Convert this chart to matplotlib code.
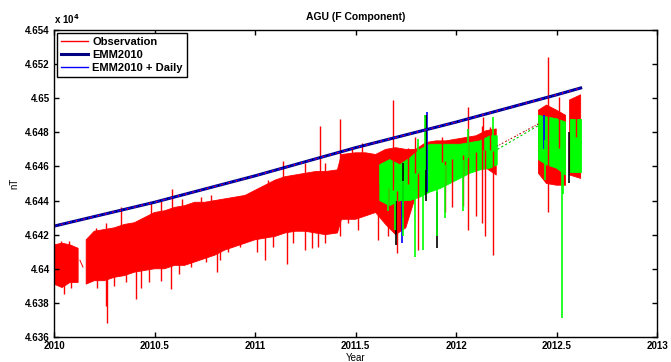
import numpy as np
import matplotlib
matplotlib.use("Agg")
import matplotlib.pyplot as plt
from matplotlib.lines import Line2D

nan = np.nan

# observation (red) band: time, lower and upper envelope in nT (nan = data gap)
obs_t = [2010.00, 2010.04, 2010.08, 2010.12, 2010.14, 2010.16, 2010.20, 2010.25, 2010.30, 2010.35,
         2010.40, 2010.45, 2010.50, 2010.55, 2010.60, 2010.65, 2010.70, 2010.75, 2010.80, 2010.85,
         2010.90, 2010.95, 2011.00, 2011.05, 2011.10, 2011.15, 2011.20, 2011.25, 2011.30, 2011.35,
         2011.41, 2011.43, 2011.50, 2011.55, 2011.60, 2011.65, 2011.70, 2011.75, 2011.80, 2011.85,
         2011.90, 2011.95, 2012.00, 2012.05, 2012.10, 2012.15, 2012.20, 2012.30, 2012.41, 2012.45,
         2012.50, 2012.545, 2012.555, 2012.565, 2012.62]
obs_hi = [46414, 46415, 46414, 46412, nan, 46417, 46422, 46423, 46424, 46426,
          46427, 46430, 46433, 46434, 46436, 46437, 46439, 46439, 46440, 46441,
          46442, 46443, 46446, 46449, 46452, 46454, 46455, 46456, 46457, 46457,
          46458, 46467, 46468, 46468, 46467, 46470, 46471, 46470, 46470, 46474,
          46475, 46475, 46476, 46477, 46478, 46481, 46482, nan, 46493, 46496,
          46493, 46490, nan, 46499, 46502]
obs_lo = [46391, 46389, 46392, 46392, nan, 46391, 46393, 46393, 46395, 46396,
          46398, 46399, 46400, 46400, 46402, 46402, 46404, 46406, 46408, 46411,
          46413, 46415, 46417, 46418, 46419, 46421, 46422, 46422, 46421, 46420,
          46421, 46429, 46429, 46431, 46433, 46426, 46420, 46424, 46443, 46446,
          46448, 46451, 46454, 46457, 46459, 46459, 46455, nan, 46456, 46450,
          46449, 46449, nan, 46455, 46453]

# isolated observation spikes (time, tip value)
obs_up_t = [2010.035, 2010.075, 2010.209, 2010.259, 2010.334, 2010.483, 2010.533, 2010.588, 2010.637,
            2010.732, 2010.782, 2010.951, 2011.016, 2011.066, 2011.140, 2011.250, 2011.325, 2011.350,
            2011.424, 2011.484, 2011.534, 2011.688, 2011.763, 2011.798, 2011.932, 2012.062, 2012.131,
            2012.136, 2012.171, 2012.460, 2012.510, 2012.595]
obs_up_v = [46416, 46416, 46424, 46427, 46436, 46439, 46440, 46447, 46441,
            46442, 46443, 46443, 46447, 46452, 46463, 46462, 46484, 46462,
            46488, 46471, 46474, 46499, 46471, 46477, 46477, 46495, 46484,
            46489, 46483, 46524, 46501, 46501]
obs_dn_t = [2010.050, 2010.085, 2010.164, 2010.214, 2010.259, 2010.264, 2010.299, 2010.359, 2010.408,
            2010.433, 2010.473, 2010.533, 2010.583, 2010.623, 2010.682, 2010.757, 2010.812, 2010.827,
            2010.867, 2010.926, 2011.011, 2011.051, 2011.091, 2011.160, 2011.190, 2011.250, 2011.285,
            2011.315, 2011.350, 2011.424, 2011.464, 2011.514, 2011.614, 2011.663, 2011.708, 2011.813,
            2011.947, 2011.982, 2012.037, 2012.062, 2012.097, 2012.131, 2012.146, 2012.186, 2012.460]
obs_dn_v = [46385, 46389, 46393, 46389, 46378, 46368, 46390, 46392, 46382,
            46389, 46392, 46393, 46388, 46397, 46401, 46404, 46398, 46405,
            46410, 46413, 46410, 46405, 46413, 46403, 46415, 46411, 46412,
            46413, 46415, 46419, 46427, 46423, 46417, 46419, 46409, 46411,
            46433, 46436, 46437, 46423, 46431, 46427, 46419, 46408, 46433]
obs_gap_t = [2010.129, 2010.144]
obs_gap_v = [46405, 46401]

# second (green) record
grn_t = [2011.62, 2011.67, 2011.72, 2011.77, 2011.82, 2011.87, 2011.92, 2011.97, 2012.02, 2012.07,
         2012.12, 2012.17, 2012.205, 2012.30, 2012.41, 2012.45, 2012.50, 2012.545, 2012.555, 2012.565,
         2012.62]
grn_hi = [46461, 46464, 46461, 46465, 46470, 46473, 46473, 46473, 46473, 46474,
          46475, 46478, 46478, nan, 46490, 46489, 46488, 46486, nan, 46488,
          46488]
grn_lo = [46440, 46437, 46440, 46440, 46442, 46445, 46447, 46450, 46453, 46456,
          46458, 46459, 46461, nan, 46464, 46461, 46459, 46455, nan, 46457,
          46457]
grn_up_t = [2011.848, 2011.813, 2012.186, 2012.062]
grn_up_v = [46490, 46476, 46489, 46482]
grn_dn_t = [2011.663, 2011.698, 2011.738, 2011.798, 2011.838, 2011.907, 2011.947, 2012.037,
            2012.445, 2012.525, 2012.530]
grn_dn_v = [46434, 46423, 46419, 46407, 46411, 46419, 46430, 46434,
            46452, 46371, 46444]

# interpolation across the 2012 gap
gap_t = [2012.206, 2012.410]
gap_grn = [46470, 46484]
gap_red = [46472, 46485]

# black / blue fragments peeking out from under the green record
blk_t = [2011.853, 2011.907, 2012.560, 2011.700, 2011.735]
blk_lo = [46440, 46412, 46450, 46414, 46430]
blk_hi = [46490, 46445, 46480, 46440, 46462]
blu_t = [2011.858, 2011.730, 2012.44]
blu_lo = [46445, 46415, 46470]
blu_hi = [46492, 46440, 46490]

# main field model
emm_t = [2010.0, 2010.5, 2011.0, 2011.5, 2012.0, 2012.5, 2012.62]
emm_v = [46425, 46439, 46454.5, 46471, 46486, 46502, 46506]

yticks = [46360, 46380, 46400, 46420, 46440, 46460, 46480, 46500, 46520, 46540]
xticks = [2010, 2010.5, 2011, 2011.5, 2012, 2012.5, 2013]

plt.rcParams['font.family'] = ['Liberation Sans', 'DejaVu Sans']
plt.rcParams['font.weight'] = 'bold'
plt.rcParams['font.size'] = 7

fig = plt.figure(figsize=(6.71, 3.62), dpi=100)
ax = fig.add_axes([0.0805, 0.0691, 0.8987, 0.848])


def spikes(t, v, band_t, band_lo, band_hi, color, lw):
    mid = (np.array(band_lo) + np.array(band_hi)) / 2
    base = np.interp(t, band_t, mid)
    ax.vlines(t, base, v, color=color, lw=lw)


# observation
ax.fill_between(obs_t, obs_lo, obs_hi, color='red', lw=0.6, edgecolor='red')
spikes(obs_up_t, obs_up_v, obs_t, obs_lo, obs_hi, 'red', 1.0)
spikes(obs_dn_t, obs_dn_v, obs_t, obs_lo, obs_hi, 'red', 1.0)
ax.plot(obs_gap_t, obs_gap_v, color='red', lw=0.7)

# fragments under green
ax.vlines(blu_t, blu_lo, blu_hi, color='blue', lw=1.2)
ax.vlines(blk_t, blk_lo, blk_hi, color='black', lw=1.2)

# green record
ax.fill_between(grn_t, grn_lo, grn_hi, color='#00ff00', lw=0.6, edgecolor='#00ff00')
spikes(grn_up_t, grn_up_v, grn_t, grn_lo, grn_hi, '#00ff00', 1.2)
spikes(grn_dn_t, grn_dn_v, grn_t, grn_lo, grn_hi, '#00ff00', 1.2)
ax.plot(gap_t, gap_grn, color='#00cc00', lw=0.8, ls=(0, (2, 2)))
ax.plot(gap_t, gap_red, color='red', lw=0.8, ls=(1, (1, 2)))
ax.plot(gap_t, gap_red, color='black', lw=0.6, ls=(0, (1, 5)))

# model lines
ax.plot(emm_t, emm_v, color='#000080', lw=2.2)
ax.plot(emm_t, emm_v, color='blue', lw=1.0)
ax.plot(emm_t, emm_v, color='red', lw=0.9, ls=(0, (1, 5)))
ax.plot(emm_t, emm_v, color='black', lw=0.9, ls=(3, (1, 5)))

ax.set_xlim(2010, 2013)
ax.set_ylim(46360, 46540)
ax.set_xticks(xticks)
ax.set_xticklabels(['%g' % v for v in xticks])
ax.set_yticks(yticks)
ax.set_yticklabels(['%g' % (v / 1e4) for v in yticks])
ax.tick_params(direction='in', length=3.5, width=1, top=True, right=True, pad=3)
for s in ax.spines.values():
    s.set_linewidth(1)

ax.set_title('AGU (F Component)', fontsize=7.5, fontweight='bold', pad=7)
ax.set_ylabel('nT', labelpad=4)
ax.set_xlabel('Year', labelpad=1)
ax.text(0.0, 1.012, r'x 10$^4$', transform=ax.transAxes, ha='left', va='bottom', fontsize=7)

handles = [Line2D([], [], color='red', lw=1.0),
           Line2D([], [], color='#000080', lw=2.2),
           Line2D([], [], color='blue', lw=1.0)]
leg = ax.legend(handles, ['Observation', 'EMM2010', 'EMM2010 + Daily'], loc='upper left',
                fancybox=False, framealpha=1, edgecolor='black', fontsize=8,
                handlelength=2.4, borderpad=0.35, labelspacing=0.25, borderaxespad=0.3,
                handletextpad=0.4)
leg.get_frame().set_linewidth(1)

fig.savefig('out.png', dpi=100)
